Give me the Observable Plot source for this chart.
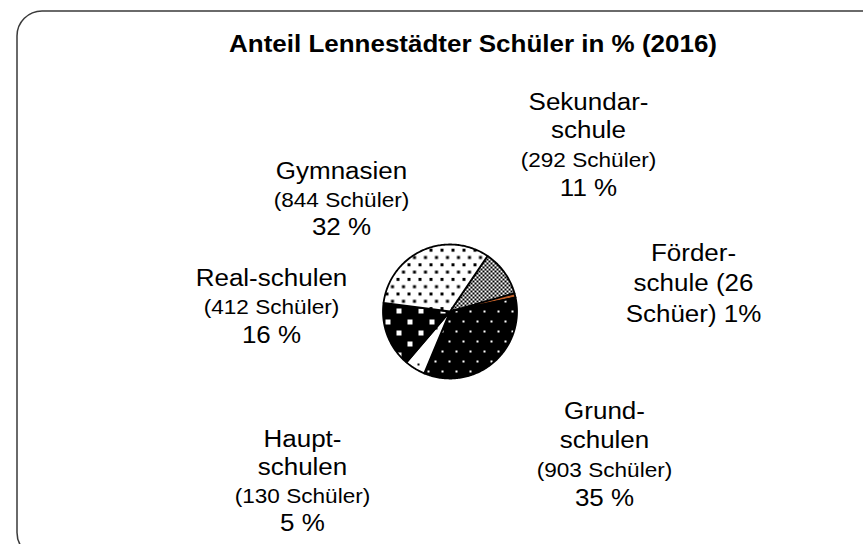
<!DOCTYPE html>
<html><head><meta charset="utf-8">
<script src="https://cdn.jsdelivr.net/npm/d3@7"></script>
<script src="https://cdn.jsdelivr.net/npm/@observablehq/plot@0.6"></script>
<style>
html,body{margin:0;padding:0;background:#fff;}
#chart svg{display:block;}
</style></head><body><div id="chart"></div>
<script>
// ---- data ----
const title = "Anteil Lennestädter Schüler in % (2016)";
const categories = ["Sekundarschule","Förderschule","Grundschulen","Hauptschulen","Realschulen","Gymnasien"];
const students = [292, 26, 903, 130, 412, 844];
const percents = [11, 1, 35, 5, 16, 32];
const labelLines = [
  ["Sekundar-","schule","(292 Schüler)","11 %"],
  ["Förder-","schule (26","Schüer) 1%"],
  ["Grund-","schulen","(903 Schüler)","35 %"],
  ["Haupt-","schulen","(130 Schüler)","5 %"],
  ["Real-schulen","(412 Schüler)","16 %"],
  ["Gymnasien","(844 Schüler)","32 %"]
];

// ---- layout ----
const W = 863, H = 544;
const CX = 449.5, CY = 311, R = 67;
const START = 34 * Math.PI / 180;
const labelPos = [[588,109,28.7],[693,260,30.5],[604,418,29],[302,446,28.3],[271,285,28.5],[341,178,28]];
const BIG = 23, SMALL = 20, STRETCH = 1.13;
const FONT = "Liberation Sans, Arial, Helvetica, sans-serif";
const patIds = categories.map((c,i) => "pat" + i);

const rows = categories.map((c,i) => ({cat: c, n: students[i]}));
const arcs = d3.pie().sort(null).value(d => d.n).startAngle(START).endAngle(START + 2*Math.PI)(rows);
const pts = arcs.flatMap(a => {
  const k = a.data.cat;
  const out = [{k, x: CX, y: CY}];
  const n = Math.max(3, Math.ceil((a.endAngle - a.startAngle) / (Math.PI/180)));
  for (let i = 0; i <= n; i++) {
    const ang = a.startAngle + (a.endAngle - a.startAngle) * i / n;
    out.push({k, x: CX + R*Math.sin(ang), y: CY - R*Math.cos(ang)});
  }
  out.push({k, x: CX, y: CY});
  return out;
});

const isSmall = s => /^\(\d+ Schüler\)$/.test(s);
const textRows = labelLines.flatMap((lines,i) => lines.map((s,j) => ({
  text: s, x: labelPos[i][0], y: labelPos[i][1] + j*labelPos[i][2], small: isSmall(s)
})));

const chart = Plot.plot({
  width: W, height: H,
  marginLeft: 16.5, marginTop: 10.5, marginRight: -22, marginBottom: -13,
  x: {domain: [0, W], range: [0, W], axis: null},
  y: {domain: [0, H], range: [0, H], axis: null},
  color: {type: "ordinal", domain: categories, range: patIds.map(p => `url(#${p})`)},
  style: {fontFamily: FONT, background: "#fff"},
  marks: [
    Plot.frame({stroke: "#3a3a3a", strokeWidth: 1.5, rx: 25, ry: 25}),
    Plot.line(pts, {x: "x", y: "y", z: "k", fill: "k", stroke: "#000", strokeWidth: 1.8, strokeLinejoin: "round", curve: "linear"}),
    Plot.text([title], {x: () => 472.5, y: () => 51, text: d => d, fontSize: BIG, fontWeight: "bold", lineAnchor: "bottom", fill: "#000"}),
    Plot.text(textRows.filter(d => !d.small), {x: "x", y: "y", text: "text", fontSize: BIG, lineAnchor: "bottom", fill: "#000"}),
    Plot.text(textRows.filter(d => d.small), {x: "x", y: "y", text: "text", fontSize: SMALL, lineAnchor: "bottom", fill: "#000"})
  ]
});

// patterns
const svg = d3.select(chart);
const defs = svg.insert("defs", ":first-child");
function pat(id, w, h, bg, fg, rects) {
  const p = defs.append("pattern").attr("id", id).attr("patternUnits", "userSpaceOnUse").attr("width", w).attr("height", h);
  p.append("rect").attr("width", w).attr("height", h).attr("fill", bg);
  rects.forEach(r => p.append("rect").attr("x", r[0]).attr("y", r[1]).attr("width", r[2]).attr("height", r[3]).attr("fill", fg));
}
pat("pat0", 4, 4, "#fff", "#000", [[0,0,2,2],[2,2,2,2]]);
pat("pat1", 4, 4, "#c0602a", "#c0602a", []);
pat("pat2", 14, 20, "#000", "#fff", [[0,0,2,2],[7,10,2,2]]);
pat("pat3", 18, 18, "#fff", "#000", [[3,3,2,2]]);
pat("pat4", 22, 22, "#000", "#fff", [[0,0,5,5],[11,11,5,5]]);
pat("pat5", 11, 14.6, "#fff", "#000", [[0,0,3,3],[5.5,7.3,3,3]]);

// horizontal stretch of the lettering, as in the original
chart.querySelectorAll("text").forEach(t => {
  const tr = t.getAttribute("transform");
  if (tr && /translate/.test(tr)) {
    t.setAttribute("transform", tr + ` scale(${STRETCH},1)`);
  } else {
    const x = +t.getAttribute("x") || 0, y = +t.getAttribute("y") || 0;
    t.removeAttribute("x"); t.removeAttribute("y");
    t.setAttribute("transform", `translate(${x},${y}) scale(${STRETCH},1)`);
  }
});

document.getElementById("chart").appendChild(chart);
</script>
</body></html>
